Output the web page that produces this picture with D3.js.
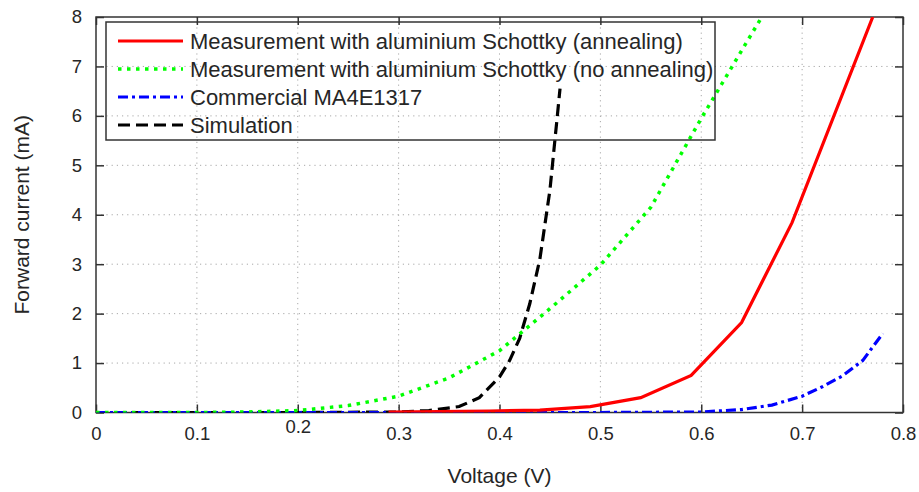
<!DOCTYPE html>
<html>
<head>
<meta charset="utf-8">
<script src="https://cdn.jsdelivr.net/npm/d3@7"></script>
<style>
  body { margin: 0; background: #fff; }
  text { font-family: Arial, "Liberation Sans", sans-serif; fill: #262626; }
</style>
</head>
<body>
<div id="chart"></div>
<script>

// data (voltage in V, current in mA)
let annealV = [0.29, 0.34, 0.39, 0.44, 0.49, 0.54, 0.59, 0.64, 0.69, 0.77];
let annealI = [0.01, 0.02, 0.03, 0.05, 0.12, 0.30, 0.75, 1.82, 3.84, 8.00];

let noAnnealV = [0, 0.05, 0.10, 0.15, 0.20, 0.25, 0.30, 0.35, 0.40, 0.45, 0.50, 0.55, 0.60, 0.65, 0.66];
let noAnnealI = [0, 0, 0, 0.01, 0.04, 0.14, 0.33, 0.70, 1.25, 2.10, 2.98, 4.15, 5.95, 7.66, 8.00];

let commercialV = [0, 0.10, 0.20, 0.30, 0.40, 0.50, 0.60, 0.64, 0.67, 0.70, 0.72, 0.74, 0.76, 0.78];
let commercialI = [0, 0, 0, 0, 0, 0, 0.01, 0.06, 0.15, 0.33, 0.52, 0.74, 1.05, 1.60];

let simV = [0, 0.10, 0.20, 0.30, 0.33, 0.36, 0.38, 0.40, 0.41, 0.42, 0.43, 0.44, 0.45, 0.46];
let simI = [0, 0, 0, 0.01, 0.04, 0.12, 0.30, 0.72, 1.05, 1.50, 2.20, 3.10, 4.50, 6.55];

let xTicks = [0, 0.1, 0.2, 0.3, 0.4, 0.5, 0.6, 0.7, 0.8];
let yTicks = [0, 1, 2, 3, 4, 5, 6, 7, 8];

let legendNames = [
  "Measurement with aluminium Schottky (annealing)",
  "Measurement with aluminium Schottky (no annealing)",
  "Commercial MA4E1317",
  "Simulation"
];

let width = 919;
let height = 492;
let plotLeft = 96, plotRight = 903, plotTop = 17, plotBottom = 412.5;
let axisColor = "#333";

let series = [
  { name: legendNames[0], v: annealV, i: annealI, color: "#ff0000", dash: null, w: 3.2 },
  { name: legendNames[1], v: noAnnealV, i: noAnnealI, color: "#00ff00", dash: "3.5,5.5", w: 3.5 },
  { name: legendNames[2], v: commercialV, i: commercialI, color: "#0000ff", dash: "10,4,3,4", w: 3.2 },
  { name: legendNames[3], v: simV, i: simI, color: "#000000", dash: "12,6", w: 3.2 }
];

let svg = d3
  .select("#chart")
  .append("svg")
  .attr("width", width)
  .attr("height", height);

let xScale = d3.scaleLinear().domain([0, 0.8]).range([plotLeft, plotRight]);
let yScale = d3.scaleLinear().domain([0, 8]).range([plotBottom, plotTop]);

// grid
let grid = svg.append("g")
  .attr("stroke", "#a8a8a8")
  .attr("stroke-width", 1)
  .attr("stroke-dasharray", "1.2,4");

grid.selectAll(".gx")
  .data(xTicks.slice(1, -1))
  .enter()
  .append("line")
  .attr("x1", d => xScale(d))
  .attr("x2", d => xScale(d))
  .attr("y1", plotTop)
  .attr("y2", plotBottom);

grid.selectAll(".gy")
  .data(yTicks.slice(1, -1))
  .enter()
  .append("line")
  .attr("x1", plotLeft)
  .attr("x2", plotRight)
  .attr("y1", d => yScale(d))
  .attr("y2", d => yScale(d));

// axes, ticks pointing inwards on all four sides
let xAxisB = d3.axisBottom(xScale).tickValues(xTicks).tickSizeInner(-8).tickSizeOuter(0)
  .tickPadding(14).tickFormat(d => d3.format("~g")(d));
let xAxisT = d3.axisTop(xScale).tickValues(xTicks).tickSizeInner(-8).tickSizeOuter(0).tickFormat("");
let yAxisL = d3.axisLeft(yScale).tickValues(yTicks).tickSizeInner(-8).tickSizeOuter(0).tickPadding(14);
let yAxisR = d3.axisRight(yScale).tickValues(yTicks).tickSizeInner(-8).tickSizeOuter(0).tickFormat("");

function styleAxis(g) {
  g.select(".domain").remove();
  g.selectAll("line").attr("stroke", axisColor).attr("stroke-width", 1.5);
  g.selectAll("text")
    .attr("font-size", 18.5)
    .attr("font-family", "Arial, 'Liberation Sans', sans-serif")
    .attr("fill", "#262626");
}

svg.append("g").attr("transform", "translate(0," + plotBottom + ")").call(xAxisB).call(styleAxis);
svg.append("g").attr("transform", "translate(0," + plotTop + ")").call(xAxisT).call(styleAxis);
svg.append("g").attr("transform", "translate(" + plotLeft + ",0)").call(yAxisL).call(styleAxis);
svg.append("g").attr("transform", "translate(" + plotRight + ",0)").call(yAxisR).call(styleAxis);

// the 0.2 label sits a little higher in the original
svg.selectAll("text").filter(function() { return d3.select(this).text() === "0.2"; })
  .attr("dy", "0.35em");

// plot frame
svg.append("rect")
  .attr("x", plotLeft)
  .attr("y", plotTop)
  .attr("width", plotRight - plotLeft)
  .attr("height", plotBottom - plotTop)
  .attr("fill", "none")
  .attr("stroke", axisColor)
  .attr("stroke-width", 1.5);

// curves
svg.append("clipPath")
  .attr("id", "plotClip")
  .append("rect")
  .attr("x", plotLeft)
  .attr("y", plotTop)
  .attr("width", plotRight - plotLeft)
  .attr("height", plotBottom - plotTop);

let line = d3.line()
  .x(d => xScale(d[0]))
  .y(d => yScale(d[1]));

let curves = svg.append("g").attr("clip-path", "url(#plotClip)");

// draw in reverse so the red curve stays on top
series.slice().reverse().forEach(function(s) {
  curves.append("path")
    .datum(s.v.map((v, k) => [v, s.i[k]]))
    .attr("d", line)
    .attr("fill", "none")
    .attr("stroke", s.color)
    .attr("stroke-width", s.w)
    .attr("stroke-dasharray", s.dash);
});

// legend (no background, grid shows through)
let legend = svg.append("g");

legend.append("rect")
  .attr("x", 106)
  .attr("y", 22)
  .attr("width", 609)
  .attr("height", 118)
  .attr("fill", "none")
  .attr("stroke", axisColor)
  .attr("stroke-width", 1.5);

let rowY = [41, 69, 97, 125];

series.forEach(function(s, k) {
  legend.append("line")
    .attr("x1", 118)
    .attr("x2", 183)
    .attr("y1", rowY[k])
    .attr("y2", rowY[k])
    .attr("stroke", s.color)
    .attr("stroke-width", s.w)
    .attr("stroke-dasharray", s.dash);

  legend.append("text")
    .attr("x", 190)
    .attr("y", rowY[k])
    .attr("dy", "0.36em")
    .attr("font-size", 22)
    .text(s.name);
});

// axis titles
svg.append("text")
  .attr("x", (plotLeft + plotRight) / 2)
  .attr("y", 483)
  .attr("text-anchor", "middle")
  .attr("font-size", 21)
  .text("Voltage (V)");

svg.append("text")
  .attr("transform", "translate(29," + (plotBottom + plotTop) / 2 + ")rotate(-90)")
  .attr("text-anchor", "middle")
  .attr("font-size", 21)
  .text("Forward current (mA)");

</script>
</body>
</html>
